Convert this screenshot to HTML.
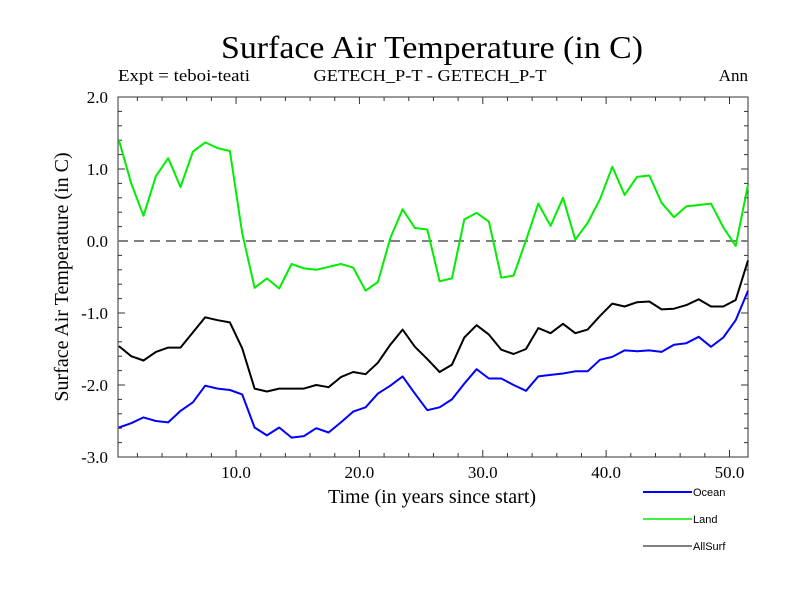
<!DOCTYPE html>
<html><head><meta charset="utf-8"><style>body{margin:0;background:#fff}svg{display:block}</style></head>
<body>
<svg id="chart" width="800" height="600" xmlns="http://www.w3.org/2000/svg">
<rect width="800" height="600" fill="#fff"/>
<text x="432" y="58" text-anchor="middle" font-family="Liberation Serif, serif" font-size="32" textLength="422" lengthAdjust="spacingAndGlyphs">Surface Air Temperature (in C)</text>
<text x="118" y="81" font-family="Liberation Serif, serif" font-size="17" textLength="132" lengthAdjust="spacingAndGlyphs">Expt = teboi-teati</text>
<text x="430" y="81" text-anchor="middle" font-family="Liberation Serif, serif" font-size="17" textLength="233" lengthAdjust="spacingAndGlyphs">GETECH_P-T - GETECH_P-T</text>
<text x="748" y="81" text-anchor="end" font-family="Liberation Serif, serif" font-size="17">Ann</text>
<text transform="translate(68,277) rotate(-90)" text-anchor="middle" font-family="Liberation Serif, serif" font-size="20">Surface Air Temperature (in C)</text>
<text x="432" y="503" text-anchor="middle" font-family="Liberation Serif, serif" font-size="20">Time (in years since start)</text>
<g id="axes"></g>
<g id="series"></g>
<g id="legend"></g>
</svg>
<script>
const years = [];
for (let i = 0; i < 52; i++) years.push(i + 0.5);
const land = [1.40,0.80,0.35,0.90,1.15,0.75,1.24,1.37,1.29,1.25,0.11,-0.65,-0.52,-0.66,-0.32,-0.38,-0.40,-0.36,-0.32,-0.37,-0.69,-0.57,0.04,0.44,0.18,0.16,-0.56,-0.52,0.30,0.39,0.27,-0.51,-0.48,0.01,0.52,0.21,0.60,0.02,0.25,0.58,1.03,0.64,0.89,0.91,0.53,0.33,0.48,0.50,0.52,0.19,-0.07,0.78];
const allSurf = [-1.46,-1.60,-1.66,-1.54,-1.48,-1.48,-1.27,-1.06,-1.10,-1.13,-1.49,-2.05,-2.09,-2.05,-2.05,-2.05,-2.00,-2.03,-1.89,-1.82,-1.85,-1.69,-1.44,-1.23,-1.47,-1.64,-1.82,-1.72,-1.34,-1.17,-1.30,-1.51,-1.57,-1.50,-1.21,-1.28,-1.15,-1.28,-1.23,-1.04,-0.87,-0.91,-0.85,-0.84,-0.95,-0.94,-0.89,-0.81,-0.91,-0.91,-0.82,-0.27];
const ocean = [-2.59,-2.53,-2.45,-2.50,-2.52,-2.36,-2.24,-2.01,-2.05,-2.07,-2.13,-2.59,-2.70,-2.59,-2.73,-2.71,-2.60,-2.66,-2.52,-2.37,-2.31,-2.12,-2.01,-1.88,-2.12,-2.35,-2.31,-2.20,-1.98,-1.78,-1.91,-1.91,-2.00,-2.08,-1.88,-1.86,-1.84,-1.81,-1.81,-1.65,-1.61,-1.52,-1.53,-1.52,-1.54,-1.44,-1.42,-1.33,-1.47,-1.34,-1.10,-0.69];
const yTicks = [2.0,1.0,0.0,-1.0,-2.0,-3.0];
const xTicks = [10,20,30,40,50];

const NS = "http://www.w3.org/2000/svg";
const L = 118, R = 748, T = 97, B = 457;
const xMin = 0.43, xMax = 51.5, yMin = -3, yMax = 2;
const sx = v => L + (v - xMin) / (xMax - xMin) * (R - L);
const sy = v => B - (v - yMin) / (yMax - yMin) * (B - T);
function mk(tag, attrs, parent) {
  const e = document.createElementNS(NS, tag);
  for (const k in attrs) e.setAttribute(k, attrs[k]);
  parent.appendChild(e);
  return e;
}
const axes = document.getElementById('axes');
const frame = mk('rect', {x: L, y: T, width: R - L, height: B - T, fill: 'none', stroke: '#333', 'stroke-width': 1}, axes);


for (let v = -3; v <= 2.0001; v += 0.2) {
  const major = Math.abs(v - Math.round(v)) < 1e-6;
  const len = major ? 7 : 4;
  const y = sy(v);
  mk('line', {x1: L, x2: L + len, y1: y, y2: y, stroke: '#333'}, axes);
  mk('line', {x1: R, x2: R - len, y1: y, y2: y, stroke: '#333'}, axes);
}
yTicks.forEach(v => {
  const t = mk('text', {x: 108, y: sy(v) + 6, 'text-anchor': 'end', 'font-family': 'Liberation Serif, serif', 'font-size': 17}, axes);
  
  
  t.textContent = v.toFixed(1);
});
for (let v = 2; v <= 50; v += 2) {
  const major = v % 10 === 0;
  const len = major ? 7 : 4;
  const x = sx(v);
  mk('line', {x1: x, x2: x, y1: B, y2: B - len, stroke: '#333'}, axes);
  mk('line', {x1: x, x2: x, y1: T, y2: T + len, stroke: '#333'}, axes);
}
xTicks.forEach(v => {
  const t = mk('text', {x: sx(v), y: 478, 'text-anchor': 'middle', 'font-family': 'Liberation Serif, serif', 'font-size': 17}, axes);
  
  
  t.textContent = v.toFixed(1);
});
const zero = mk('line', {x1: L, x2: R, y1: sy(0), y2: sy(0), stroke: '#808080', 'stroke-width': 2, 'stroke-dasharray': '10,6'}, axes);



const series = document.getElementById('series');
function drawLine(vals, color, w, name) {
  const pts = vals.map((v, i) => sx(years[i]).toFixed(1) + ',' + sy(v).toFixed(1)).join(' ');
  const p = mk('polyline', {points: pts, fill: 'none', stroke: color, 'stroke-width': w, 'stroke-linejoin': 'round'}, series);
  
  
}
drawLine(land, '#00ee00', 2, 'land-line');
drawLine(allSurf, '#000', 2, 'allsurf-line');
drawLine(ocean, '#0000ff', 2, 'ocean-line');

const legend = document.getElementById('legend');
[['Ocean', '#0000ff', 2, 492], ['Land', '#00ee00', 1.5, 519], ['AllSurf', '#000', 1, 546]].forEach(d => {
  const g = mk('g', {}, legend);
  
  
  mk('line', {x1: 643, x2: 692, y1: d[3], y2: d[3], stroke: d[1], 'stroke-width': d[2]}, g);
  const t = mk('text', {x: 693, y: d[3] + 4, 'font-family': 'Liberation Sans, sans-serif', 'font-size': 11}, g);
  t.textContent = d[0];
});
</script>
</body></html>
